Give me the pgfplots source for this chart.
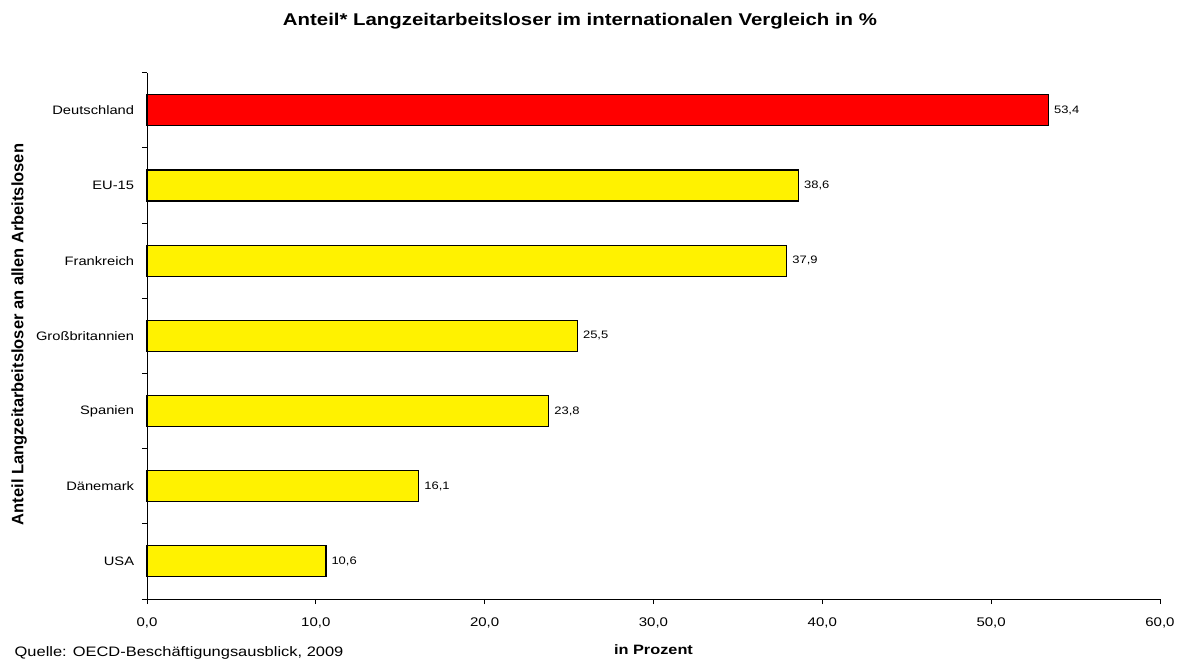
\documentclass[border=0pt]{standalone}
\usepackage{fontspec}
\setmainfont{Liberation Sans}[FakeStretch=1.2]
\newfontfamily\ylabfont{Liberation Sans}
\usepackage{pgfplots}
\pgfplotsset{compat=1.18}
\begin{document}
\begin{tikzpicture}[x=1pt,y=1pt]
\useasboundingbox (-147,-59) rectangle (1035,599);
\begin{axis}[
  at={(0,0)}, anchor=south west,
  scale only axis, width=1013pt, height=526.3pt,
  xbar, bar width=31pt, bar shift=0pt,
  xmin=0, xmax=60, ymin=-0.5, ymax=6.5,
  axis x line*=bottom, axis y line*=left,
  axis line style={-, black, line width=0.9pt},
  xtick={0,10,...,60},
  ytick={0,...,6},
  yticklabels={USA,Dänemark,Spanien,Großbritannien,Frankreich,EU-15,Deutschland},
  minor ytick={-0.5,0.5,...,6.5},
  tick align=outside, major tick length=5pt, minor tick length=5pt,
  tick style={black, line width=0.8pt},
  every major y tick/.append style={draw=none},
  /pgf/number format/assume math mode=true,
  xticklabel style={/pgf/number format/fixed, /pgf/number format/fixed zerofill, /pgf/number format/precision=1, /pgf/number format/use comma, font=\fontsize{12.5}{14}\selectfont, inner sep=0pt, anchor=base, yshift=-22pt},
  yticklabel style={font=\fontsize{12.25}{14}\selectfont, inner sep=0pt, anchor=east, xshift=-7.7pt},
  nodes near coords={\pgfmathprintnumber[fixed,fixed zerofill,precision=1,use comma,assume math mode=true]{\pgfplotspointmeta}},
  every node near coord/.append style={anchor=west, inner sep=0pt, xshift=5pt, font=\fontsize{10.8}{12}\selectfont, black},
  title={\bfseries Anteil* Langzeitarbeitsloser im internationalen Vergleich in \%},
  title style={at={(axis description cs:0.4274,1.0783)}, anchor=base, inner sep=0pt, font=\fontsize{17}{20}\selectfont},
  xlabel={\bfseries in Prozent},
  every axis x label/.style={at={(axis description cs:0.5,-0.1064)}, anchor=base, inner sep=0pt, font=\fontsize{13.6}{16}\selectfont},
  ylabel={\ylabfont\bfseries Anteil Langzeitarbeitsloser an allen Arbeitslosen},
  every axis y label/.style={at={(axis description cs:-0.1221,0.5026)}, rotate=90, anchor=base, inner sep=0pt, font=\fontsize{16.5}{19}\selectfont},
  clip=false,
]
\addplot[fill=yellow, draw=black, line width=1.1pt] coordinates {(10.6,0) (16.1,1) (23.8,2) (25.5,3) (37.9,4) (38.6,5)};
\addplot[fill=red, draw=black, line width=1.1pt] coordinates {(53.4,6)};
\end{axis}
\node[anchor=base west, inner sep=0pt] at (-132.5,-57.5) {\fontsize{13.7}{16}\selectfont Quelle: OECD-Beschäftigungsausblick, 2009};
\end{tikzpicture}
\end{document}
